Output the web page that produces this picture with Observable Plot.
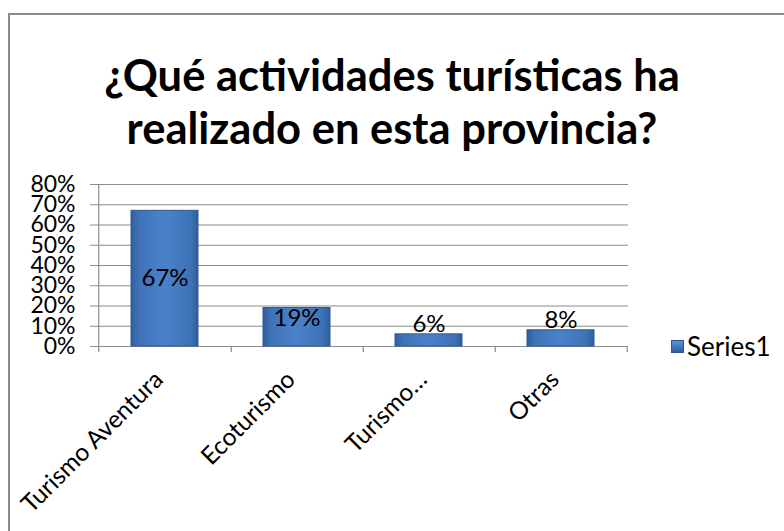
<!DOCTYPE html>
<html>
<head>
<meta charset="utf-8">
<script src="https://cdn.jsdelivr.net/npm/d3@7"></script>
<script src="https://cdn.jsdelivr.net/npm/@observablehq/plot@0.6"></script>
<style>
  html, body { margin: 0; padding: 0; background: #fff; overflow: hidden; }
  #wrap { position: relative; width: 784px; height: 531px; overflow: hidden; font-family: Lato, "Open Sans", sans-serif; }
  #frame { position: absolute; left: 8px; top: 13px; width: 900px; height: 700px; border: 2px solid #8a8a8a; box-sizing: border-box; pointer-events: none; }
  #title { height: 170px; box-sizing: border-box; padding-top: 48px; text-align: center; font-weight: bold; font-size: 43.5px; line-height: 53px; color: #000; }
  #legend { position: absolute; left: 671px; top: 330px; display: flex; align-items: center; font-size: 26px; color: #000; }
  #legend .sw { width: 13px; height: 13px; margin-right: 3px; background: linear-gradient(to bottom, #5b93d6, #2d5f9f); border: 1px solid #2a578f; box-sizing: border-box; }
  svg { display: block; }
</style>
</head>
<body>
<div id="wrap">
  <div id="title">¿Qué actividades turísticas ha<br>realizado en esta provincia?</div>
  <div id="chart"></div>
  <div id="legend"><div class="sw"></div><span id="legendText"></span></div>
  <div id="frame"></div>
</div>
<script>
const categories = ["Turismo Aventura", "Ecoturismo", "Turismo…", "Otras"];
const values = [0.67, 0.19, 0.06, 0.08];
const yTicks = [0, 0.1, 0.2, 0.3, 0.4, 0.5, 0.6, 0.7, 0.8];
const seriesName = "Series1";

const data = categories.map((c, i) => ({category: c, value: values[i]}));
const fmt = d3.format(".0%");
const W = 784, H = 361;
const mL = 98, mR = 156, mT = 14, mB = 185;
const step = (W - mL - mR) / categories.length;

const centerLabels = data.filter(d => d.value >= 0.5);
const insideLabels = data.filter(d => d.value >= 0.1 && d.value < 0.5);
const outsideLabels = data.filter(d => d.value < 0.1);

const chart = Plot.plot({
  width: W,
  height: H,
  marginLeft: mL,
  marginRight: mR,
  marginTop: mT,
  marginBottom: mB,
  style: {fontFamily: "Lato, 'Open Sans', sans-serif", background: "transparent", overflow: "visible"},
  x: {domain: categories, paddingInner: 0.49, paddingOuter: 0.245, align: 0.5, axis: null},
  y: {domain: [0, 0.8], axis: null},
  marks: [
    Plot.gridY(yTicks, {stroke: "#8c8c8c", strokeOpacity: 1, strokeWidth: 1.2}),
    Plot.axisY(yTicks, {label: null, tickFormat: fmt, tickSize: 8, tickPadding: 15, fontSize: 23, stroke: "#8c8c8c", color: "#000", strokeOpacity: 1}),
    Plot.ruleX([categories[0]], {x: d => d, dx: -step / 2, stroke: "#8c8c8c", strokeWidth: 1.2, insetBottom: -6}),
    Plot.ruleX(categories, {x: d => d, dx: step / 2, y1: 0, y2: 0, stroke: "#8c8c8c", strokeWidth: 1.2, insetBottom: -6}),
    Plot.barY(data, {x: "category", y: "value", fill: "url(#barGrad)", stroke: "#2b5a92", strokeWidth: 1}),
    Plot.text(centerLabels, {x: "category", y: d => d.value / 2, text: d => fmt(d.value), fontSize: 24, fill: "#000"}),
    Plot.text(insideLabels, {x: "category", y: "value", text: d => fmt(d.value), fontSize: 24, fill: "#000", lineAnchor: "top", dy: 1}),
    Plot.text(outsideLabels, {x: "category", y: "value", text: d => fmt(d.value), fontSize: 24, fill: "#000", lineAnchor: "bottom", dy: -2}),
    Plot.text(categories, {x: d => d, frameAnchor: "bottom", text: d => d, rotate: -45, textAnchor: "end", lineAnchor: "middle", fontSize: 24.5, fill: "#000", dx: -6, dy: 29})
  ]
});

const defs = document.createElementNS("http://www.w3.org/2000/svg", "defs");
defs.innerHTML = `
  <linearGradient id="barGrad" x1="0" y1="0" x2="1" y2="0">
    <stop offset="0" stop-color="#2f5e9c"/>
    <stop offset="0.12" stop-color="#3f73b8"/>
    <stop offset="0.5" stop-color="#4a82c9"/>
    <stop offset="0.88" stop-color="#3f73b8"/>
    <stop offset="1" stop-color="#2f5e9c"/>
  </linearGradient>`;
chart.insertBefore(defs, chart.firstChild);
document.getElementById("chart").appendChild(chart);
document.getElementById("legendText").textContent = seriesName;
</script>
</body>
</html>
